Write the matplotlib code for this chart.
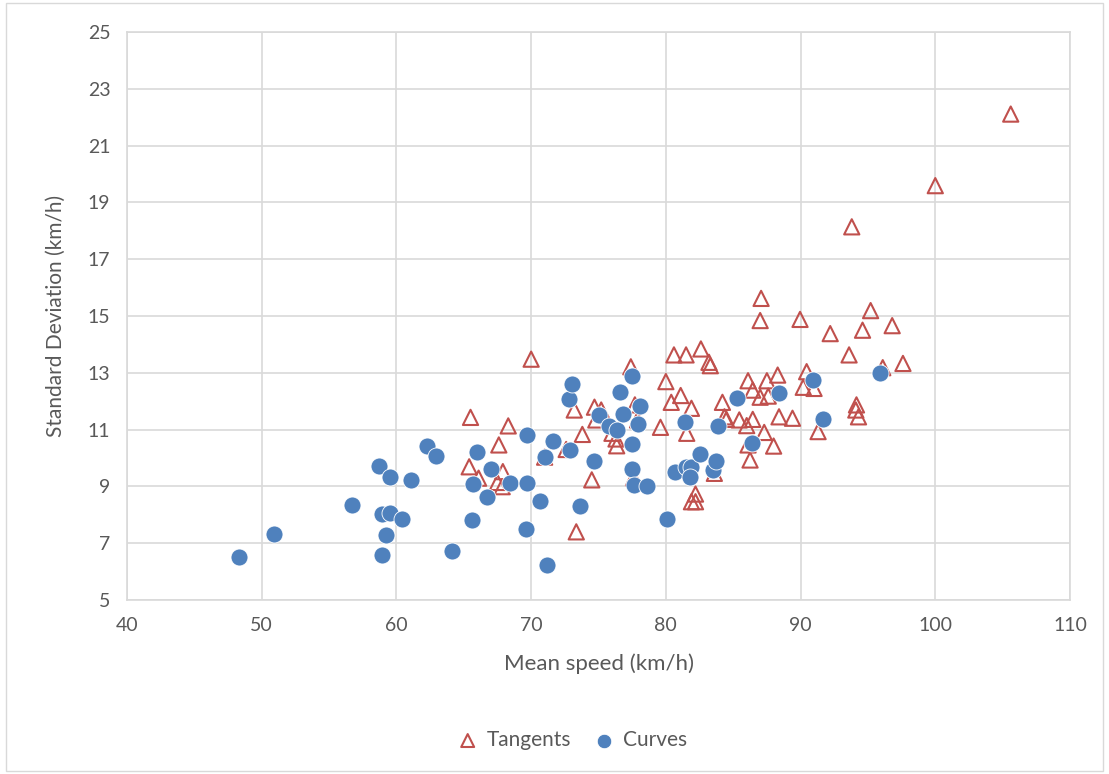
import matplotlib.pyplot as plt
from matplotlib.patches import Rectangle

# Mean speed and standard deviation (km/h) on tangent sections
tangent_speed = [70.0, 65.5, 68.3, 67.6, 65.4, 66.1, 67.9, 67.5, 67.85, 71.0,
                 72.6, 73.2, 73.8, 74.5, 73.35, 74.7, 75.2, 74.8, 76.0, 76.3,
                 76.35, 77.4, 77.7, 77.9, 77.6, 80.0, 80.6, 81.5, 81.1, 80.4,
                 79.6, 81.55, 81.9, 81.9, 87.07, 87.0, 89.96, 95.2, 94.6, 96.8,
                 92.2, 93.6, 97.6, 96.1, 82.6, 83.2, 83.3, 90.45, 90.2, 91.0,
                 86.1, 86.45, 87.5, 88.3, 87.0, 87.6, 84.2, 84.35, 84.5, 85.45,
                 86.0, 86.45, 88.4, 89.4, 94.15, 94.1, 94.3, 87.3, 91.3, 86.1,
                 88.0, 86.25, 83.6, 82.2, 82.2, 105.6, 100.0, 93.8]
tangent_sd = [13.48, 11.43, 11.13, 10.46, 9.69, 9.29, 9.52, 9.14, 8.99, 10.03,
              10.3, 11.69, 10.83, 9.23, 7.4, 11.79, 11.69, 11.34, 10.87, 10.67,
              10.43, 13.21, 11.87, 11.34, 9.3, 12.69, 13.63, 13.63, 12.2, 11.96,
              11.08, 10.87, 11.75, 8.46, 15.62, 14.84, 14.88, 15.19, 14.5, 14.66,
              14.38, 13.63, 13.33, 13.18, 13.84, 13.37, 13.25, 13.04, 12.49, 12.45,
              12.72, 12.39, 12.72, 12.92, 12.14, 12.18, 11.96, 11.45, 11.36, 11.34,
              11.14, 11.36, 11.45, 11.4, 11.87, 11.69, 11.45, 10.9, 10.93, 10.46,
              10.42, 9.93, 9.46, 8.73, 8.46, 22.11, 19.59, 18.14]

# Mean speed and standard deviation (km/h) on curves
curve_speed = [48.3, 50.9, 56.7, 58.7, 59.55, 61.1, 62.3, 62.96, 58.9, 59.55,
               60.4, 59.2, 58.9, 64.1, 65.6, 65.7, 66.0, 66.75, 67.0, 68.45,
               69.6, 69.7, 69.7, 70.65, 71.0, 71.2, 71.6, 72.9, 72.8, 73.0,
               73.65, 74.7, 75.06, 75.8, 76.35, 76.6, 76.8, 77.5, 77.5, 77.5,
               77.6, 77.9, 78.1, 78.6, 80.06, 80.65, 81.45, 81.5, 81.9, 81.8,
               82.5, 83.5, 83.7, 83.9, 85.3, 86.4, 88.4, 90.9, 91.7, 95.9]
curve_sd = [6.52, 7.33, 8.33, 9.71, 9.33, 9.23, 10.43, 10.08, 8.04, 8.08,
            7.86, 7.28, 6.6, 6.74, 7.83, 9.08, 10.22, 8.62, 9.61, 9.12,
            7.49, 9.13, 10.8, 8.48, 10.04, 6.22, 10.6, 10.27, 12.07, 12.6,
            8.3, 9.89, 11.51, 11.12, 10.98, 12.33, 11.54, 12.88, 10.48, 9.61,
            9.06, 11.21, 11.83, 9.02, 7.84, 9.5, 11.26, 9.69, 9.67, 9.32,
            10.13, 9.57, 9.88, 11.14, 12.12, 10.53, 12.28, 12.75, 11.37, 13.0]

x_ticks = list(range(40, 111, 10))
y_ticks = list(range(5, 26, 2))

grid_col = '#d9d9d9'
text_col = '#595959'
plt.rcParams['font.family'] = ['Lato', 'DejaVu Sans']

fig = plt.figure(figsize=(11.09, 7.74), dpi=100)
ax = fig.add_axes([127 / 1109, 1 - 600 / 774, 943 / 1109, 568 / 774])

ax.scatter(tangent_speed, tangent_sd, s=120, marker='^', facecolors='none',
           edgecolors='#c0504d', linewidths=1.5, label='Tangents', zorder=3)
ax.scatter(curve_speed, curve_sd, s=150, marker='o', color='#4f81bd',
           edgecolors='white', linewidths=0.6, label='Curves', zorder=3)

ax.set_xlim(40, 110)
ax.set_ylim(5, 25)
ax.set_xticks(x_ticks)
ax.set_yticks(y_ticks)
ax.grid(True, color=grid_col, linewidth=1.2)
ax.set_axisbelow(True)
for sp in ax.spines.values():
    sp.set_color(grid_col)
    sp.set_linewidth(1.2)
ax.tick_params(length=0, labelsize=14, colors=text_col, pad=12)

ax.set_xlabel('Mean speed (km/h)', fontsize=16, color=text_col, labelpad=14)
ax.set_ylabel('Standard Deviation (km/h)', fontsize=15, color=text_col, labelpad=16)

leg = fig.legend(loc='center', bbox_to_anchor=(567 / 1109, 1 - 740 / 774),
                 ncol=2, frameon=False, fontsize=15, handletextpad=-0.1,
                 columnspacing=0.6, markerscale=0.85, labelcolor=text_col)

# thin frame around the whole chart
fig.patches.append(Rectangle((6 / 1109, 3 / 774), 1097 / 1109, 768 / 774,
                             transform=fig.transFigure, fill=False,
                             edgecolor=grid_col, linewidth=1.0))

fig.savefig('out.png', dpi=100)
